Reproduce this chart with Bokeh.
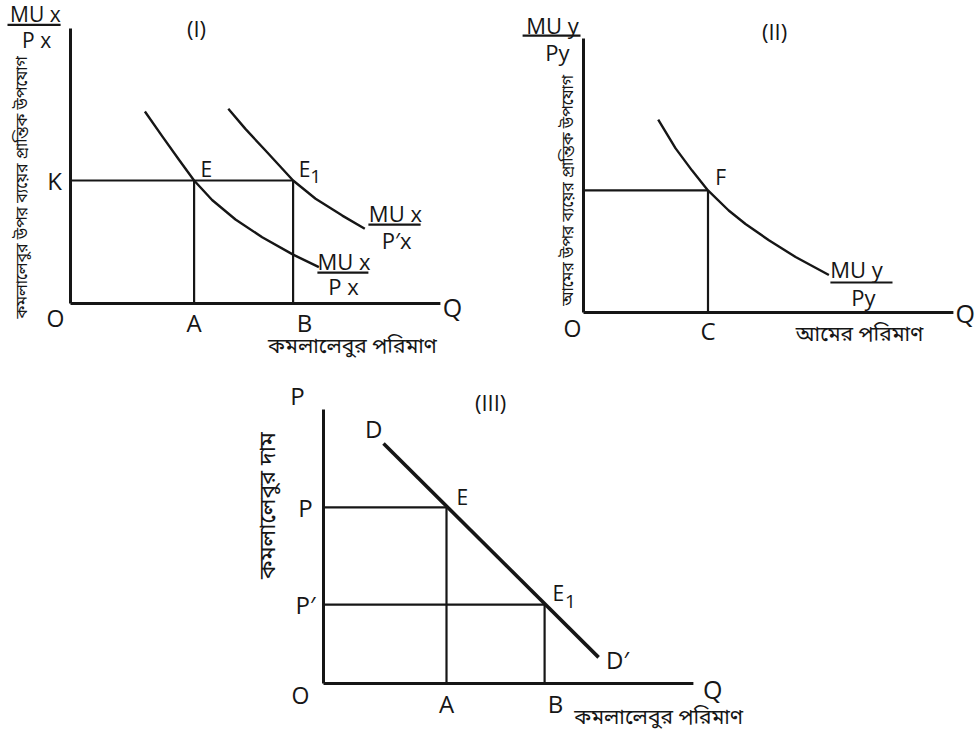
from bokeh.plotting import figure
from bokeh.layouts import column, row
from bokeh.models import Range1d
from bokeh.core.properties import value
from bokeh.embed import file_html
from bokeh.resources import INLINE

# ---------------- data (schematic units) ----------------
# Panel I : marginal utility of money spent on oranges
p1_A, p1_B, p1_K = 4.12, 7.42, 4.10
p1_xmax, p1_ymax = 12.33, 9.17
p1_c1_q = [2.48, 3.06, 3.61, 4.12, 4.72, 5.50, 6.39, 7.42, 8.28]
p1_c1_v = [6.40, 5.57, 4.80, 4.10, 3.45, 2.80, 2.21, 1.63, 1.21]
p1_c2_q = [5.26, 5.83, 6.50, 7.42, 8.17, 9.06, 9.81]
p1_c2_v = [6.49, 5.82, 5.10, 4.10, 3.49, 2.93, 2.49]

# Panel II : marginal utility of money spent on mangoes
p2_C, p2_F = 4.15, 4.07
p2_xmax, p2_ymax = 12.33, 9.13
p2_c_q = [2.49, 3.07, 3.62, 4.15, 4.84, 5.40, 6.18, 7.07, 8.18]
p2_c_v = [6.43, 5.47, 4.73, 4.07, 3.40, 2.95, 2.41, 1.85, 1.25]

# Panel III : demand curve for oranges
p3_A, p3_B = 4.10, 7.37
p3_P, p3_P2 = 5.87, 2.63
p3_xmax, p3_ymax = 12.33, 9.13
p3_d_q = [2.00, 9.17]
p3_d_p = [8.00, 0.87]

# text
y1_title = "কমলালেবুর উপর ব্যয়ের প্রান্তিক উপযোগ"
y2_title = "আমের উপর ব্যয়ের প্রান্তিক উপযোগ"
y3_title = "কমলালেবুর দাম"
x1_title = "কমলালেবুর পরিমাণ"
x2_title = "আমের পরিমাণ"
x3_title = "কমলালেবুর পরিমাণ"

# ---------------- layout helpers ----------------
PX = 30.0            # pixels per schematic unit
INK = "#161616"
LAT = "Open Sans"
BEN = "Noto Sans Bengali"

def make_fig(w, h, left, top, ox, oy):
    x0 = (left - ox) / PX
    y1 = (oy - top) / PX
    p = figure(width=w, height=h, output_backend="svg", toolbar_location=None,
               x_range=Range1d(x0, x0 + w / PX), y_range=Range1d(y1 - h / PX, y1),
               x_axis_location=None, y_axis_location=None, min_border=0)
    p.grid.visible = False
    p.outline_line_color = None
    p.background_fill_color = "white"
    p.border_fill_color = "white"
    return p

def txt(p, x, y, s, size, font=LAT, angle=0.0, align="center"):
    p.text(x=[x], y=[y], text=[s], text_font=value(font), text_font_size=f"{size}px",
           text_align=align, text_baseline="middle", angle=angle, text_color=INK)

def seg(p, xs, ys, w=2.2):
    p.line(xs, ys, line_color=INK, line_width=w, line_cap="butt", line_join="round")

def frac(p, cx, top_s, bot_s, ytop, yline, ybot, x0, x1, size=22, bx=None):
    txt(p, cx, ytop, top_s, size)
    seg(p, [x0, x1], [yline, yline], 2.2)
    txt(p, cx if bx is None else bx, ybot, bot_s, size)

def axes(p, xmax, ymax):
    seg(p, [0, 0], [0, ymax], 3.0)
    seg(p, [0, xmax], [0, 0], 3.0)

# ---------------- Panel I ----------------
p1 = make_fig(500, 370, 0, 0, 70, 303)
axes(p1, p1_xmax, p1_ymax)
seg(p1, [0, p1_B], [p1_K, p1_K])
seg(p1, [p1_A, p1_A], [0, p1_K])
seg(p1, [p1_B, p1_B], [0, p1_K])
seg(p1, p1_c1_q, p1_c1_v, 2.4)
seg(p1, p1_c2_q, p1_c2_v, 2.4)
txt(p1, 4.2, 9.17, "(I)", 22)
txt(p1, -0.53, p1_K, "K", 24)
txt(p1, 4.53, 4.50, "E", 21)
txt(p1, 7.80, 4.50, "E", 21)
txt(p1, 8.17, 4.25, "1", 19)
txt(p1, -0.50, -0.47, "O", 23)
txt(p1, p1_A, -0.63, "A", 24)
txt(p1, 7.80, -0.63, "B", 24)
txt(p1, 12.73, -0.10, "Q", 25)
frac(p1, -1.17, "MU x", "P x", 9.66, 9.29, 8.77, -2.10, -0.33, size=21, bx=-1.13)
frac(p1, 10.83, "MU x", "P′x", 3.02, 2.63, 2.13, 9.93, 11.67, bx=10.87)
frac(p1, 9.12, "MU x", "P x", 1.43, 1.03, 0.57, 8.23, 9.93, bx=9.10)
txt(p1, 9.40, -1.47, x1_title, 21, font=BEN)
txt(p1, -1.57, 3.87, y1_title, 16, font=BEN, angle=1.5708)

# ---------------- Panel II ----------------
p2 = make_fig(475, 370, 500, 0, 583, 312)
axes(p2, p2_xmax, p2_ymax)
seg(p2, [0, p2_C], [p2_F, p2_F])
seg(p2, [p2_C, p2_C], [0, p2_F])
seg(p2, p2_c_q, p2_c_v, 2.4)
txt(p2, 6.37, 9.40, "(II)", 22)
txt(p2, 4.57, 4.52, "F", 21)
txt(p2, -0.37, -0.53, "O", 23)
txt(p2, p2_C, -0.60, "C", 24)
txt(p2, 12.72, 0.0, "Q", 25)
frac(p2, -1.03, "MU y", "Py", 9.57, 9.23, 8.67, -2.03, -0.10, bx=-0.87)
frac(p2, 9.10, "MU y", "Py", 1.45, 1.00, 0.53, 8.23, 10.30, bx=9.33)
txt(p2, 9.20, -0.77, x2_title, 21, font=BEN)
txt(p2, -0.47, 4.07, y2_title, 16, font=BEN, angle=1.5708)

# ---------------- Panel III ----------------
p3 = make_fig(975, 370, 0, 370, 323, 683)
axes(p3, p3_xmax, p3_ymax)
seg(p3, [0, p3_A], [p3_P, p3_P])
seg(p3, [0, p3_B], [p3_P2, p3_P2])
seg(p3, [p3_A, p3_A], [0, p3_P])
seg(p3, [p3_B, p3_B], [0, p3_P2])
seg(p3, p3_d_q, p3_d_p, 3.6)
txt(p3, -0.87, 9.60, "P", 24)
txt(p3, 5.57, 9.40, "(III)", 22)
txt(p3, 1.67, 8.50, "D", 24)
txt(p3, 4.63, 6.23, "E", 21)
txt(p3, -0.60, p3_P, "P", 24)
txt(p3, 7.83, 3.03, "E", 21)
txt(p3, 8.23, 2.75, "1", 19)
txt(p3, -0.60, p3_P2, "P′", 24)
txt(p3, 9.80, 0.80, "D′", 24)
txt(p3, -0.77, -0.37, "O", 23)
txt(p3, p3_A, -0.67, "A", 24)
txt(p3, 7.73, -0.67, "B", 24)
txt(p3, 12.97, -0.17, "Q", 25)
txt(p3, 11.17, -1.17, x3_title, 21, font=BEN)
txt(p3, -1.83, 5.93, y3_title, 23, font=BEN, angle=1.5708)

layout = column(row(p1, p2), p3)
open("out.html", "w").write(file_html(layout, INLINE))
